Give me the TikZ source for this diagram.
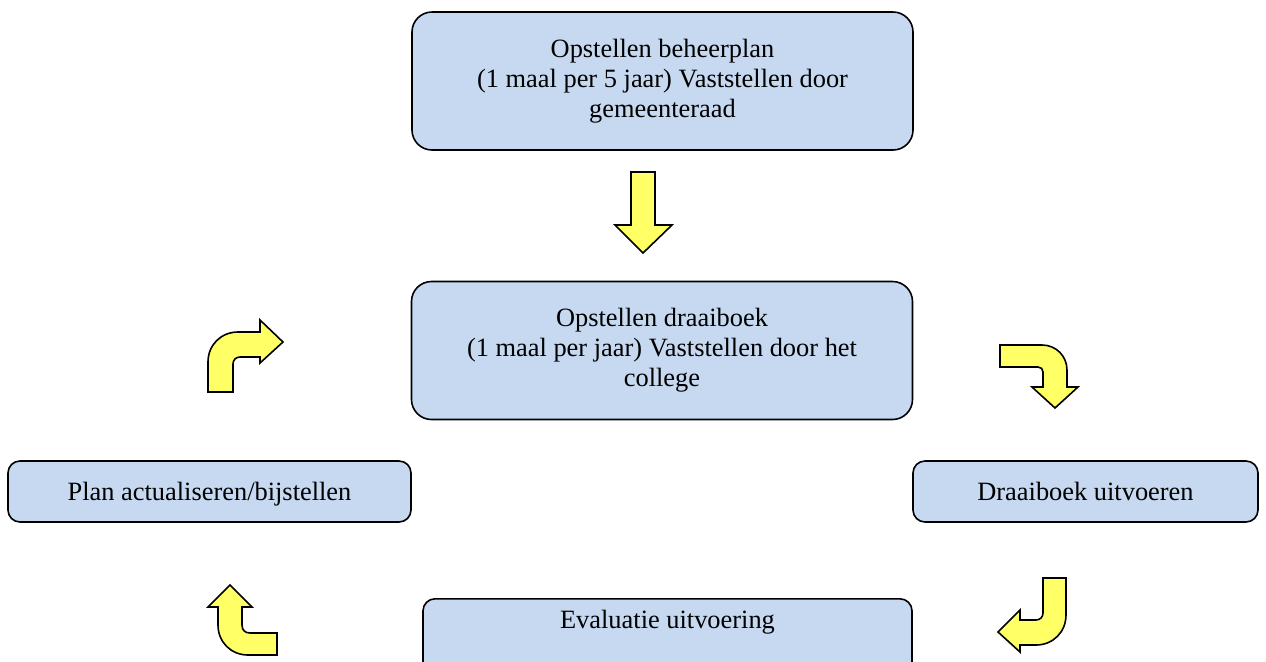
\documentclass[tikz,border=0pt]{standalone}
\usepackage{fontspec}
\setmainfont{Liberation Serif}
\usepackage{tikz}
\definecolor{boxblue}{HTML}{C6D9F1}
\definecolor{arrowyellow}{HTML}{FFFF66}
\begin{document}
\begin{tikzpicture}[x=0.5pt,y=-0.5pt,
  bigbox/.style={draw=black,line width=0.8pt,fill=boxblue,rounded corners=10pt,
    minimum width=250.5pt,minimum height=69pt,align=center,
    font=\fontsize{13.2}{15}\selectfont},
  smallbox/.style={draw=black,line width=0.8pt,fill=boxblue,rounded corners=6pt,
    minimum height=30.5pt,text height=9.2pt,text depth=0pt,font=\fontsize{13.2}{15}\selectfont},
  turnarrow/.style={draw=black,line width=0.8pt,fill=arrowyellow,line join=miter}]
\useasboundingbox (0,0) rectangle (1266,661);
							\node[bigbox] (beheerplan) at (662.5,81) {Opstellen beheerplan\\(1 maal per 5 jaar) Vaststellen door\\gemeenteraad};
							\node[bigbox] (draaiboek) at (662,350.5) {Opstellen draaiboek\\(1 maal per jaar) Vaststellen door het\\college};
							\node[smallbox,minimum width=201.5pt] (bijstellen) at (209.5,491.5) {Plan actualiseren/bijstellen};
							\node[smallbox,minimum width=172.5pt] (uitvoeren) at (1085.5,491.5) {Draaiboek uitvoeren};
							\node[smallbox,minimum width=244.5pt,anchor=north,inner ysep=5pt,text height=10pt,text depth=40pt] (evaluatie) at (667.5,598) {Evaluatie uitvoering};
					% pijlen
					\draw[turnarrow] (631,172) -- (655,172) -- (655,225) -- (672,225) -- (643,253) -- (615,225) -- (631,225) -- cycle;
					\draw[turnarrow] (1000,345) -- (1042,345) .. controls (1056,345) and (1067,356) .. (1067,370) -- (1067,387) -- (1078,387) -- (1055,408) -- (1032,387) -- (1043,387) -- (1043,372) .. controls (1043,369) and (1041,367) .. (1038,367) -- (1000,367) -- cycle;
					\draw[turnarrow] (1043,578) -- (1066,578) -- (1066,615) .. controls (1066,632) and (1053,645) .. (1036,645) -- (1020,645) -- (1020,652) -- (998,632) -- (1020,610) -- (1020,620) -- (1036,620) .. controls (1040,620) and (1043,617) .. (1043,613) -- cycle;
					\draw[turnarrow] (277,633) -- (250,633) .. controls (245,633) and (242,630) .. (242,625) -- (242,607) -- (252,607) -- (230,585) -- (208,607) -- (218,607) -- (218,625) .. controls (218,642) and (231,655) .. (248,655) -- (277,655) -- cycle;
					\draw[turnarrow] (208,392) -- (208,362) .. controls (208,345) and (221,332) .. (238,332) -- (260,332) -- (260,320) -- (283,342) -- (260,363) -- (260,357) -- (240,357) .. controls (236,357) and (233,360) .. (233,364) -- (233,392) -- cycle;
\end{tikzpicture}
\end{document}
